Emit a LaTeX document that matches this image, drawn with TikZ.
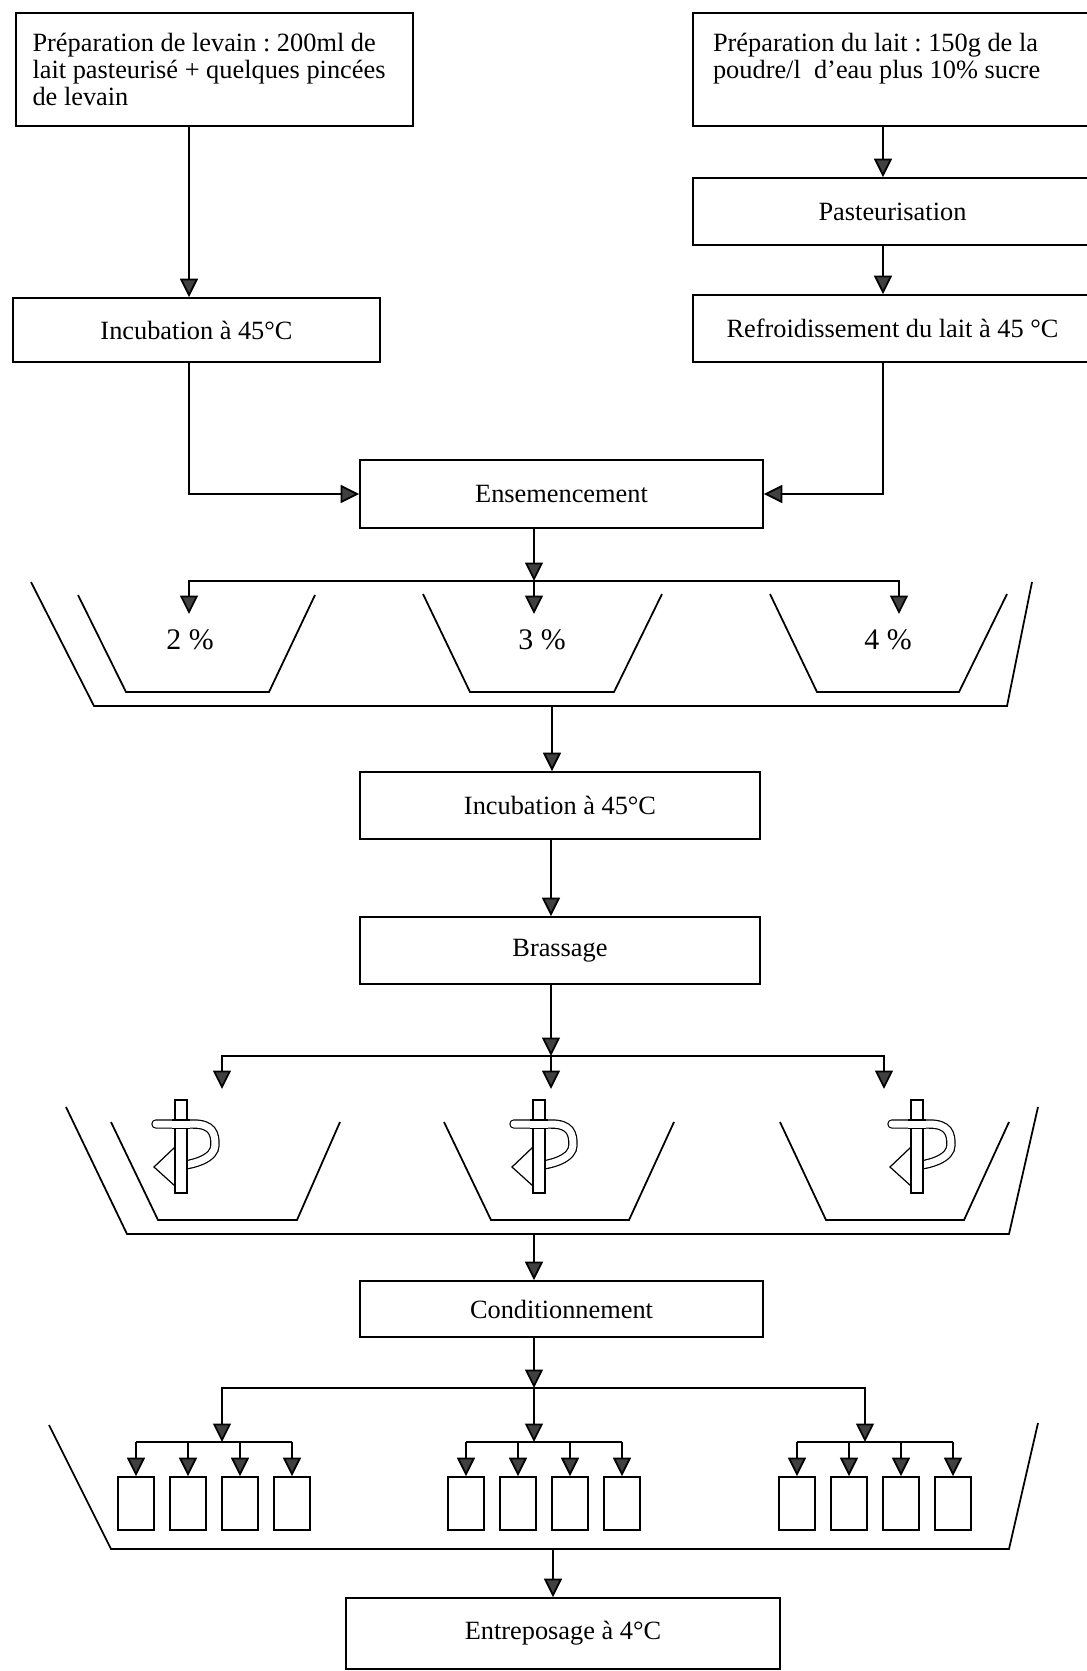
\documentclass[tikz,border=0pt]{standalone}
\usepackage{fontspec}
\setmainfont{Liberation Serif}
\usetikzlibrary{arrows.meta}
\frenchspacing

\tikzset{
  box/.style={draw, line width=1pt, inner sep=0pt, font=\fontsize{15pt}{15.3pt}\selectfont},
  arr/.style={line width=1pt, -{Triangle[length=0.37cm,width=0.36cm,fill=black!75]}},
  tray/.style={line width=1pt},
  band/.style={line width=0.7pt, double=white, double distance=0.14cm, line cap=round},
  cup/.style={draw, line width=1pt, minimum width=0.72cm, minimum height=1.06cm, inner sep=0pt},
  pct/.style={font=\fontsize{17pt}{17pt}\selectfont}
}

\begin{document}
\begin{tikzpicture}[x=0.02cm,y=-0.02cm]
\useasboundingbox (0,0) rectangle (1087,1671);

\node[box, minimum width=7.94cm, minimum height=2.26cm, text width=7.28cm, align=flush left] (levain) at (214.5,69.5) {Préparation de levain : 200ml de\\lait pasteurisé + quelques pincées\\de levain};
\node[box, minimum width=7.98cm, minimum height=2.26cm, text width=7.18cm, align=flush left] (lait) at (892.5,69.5) {Préparation du lait : 150g de la\\poudre/l~~d’eau plus 10\% sucre\\\mbox{}};

\node[box, minimum width=7.98cm, minimum height=1.34cm] (pasteur) at (892.5,211.5) {Pasteurisation};
\node[box, minimum width=7.98cm, minimum height=1.34cm] (refroid) at (892.5,328.5) {Refroidissement du lait à 45 °C};
\node[box, minimum width=7.34cm, minimum height=1.28cm] (incubA) at (196.5,330) {Incubation à 45°C};

\coordinate (colL) at (189,0);
\coordinate (colR) at (883,0);
\draw[arr] (levain.south -| colL) -- (incubA.north -| colL);
\draw[arr] (lait.south -| colR) -- (pasteur.north -| colR);
\draw[arr] (pasteur.south -| colR) -- (refroid.north -| colR);

\node[box, minimum width=8.06cm, minimum height=1.36cm] (ensem) at (561.5,494) {Ensemencement};
\draw[arr] (incubA.south -| colL) |- (ensem.west);
\draw[arr] (refroid.south -| colR) |- (ensem.east);

\coordinate (split1) at (534,581);
\coordinate (pot1) at (189,614);
\coordinate (pot2) at (534,614);
\coordinate (pot3) at (899,614);
\draw[arr] (ensem.south -| split1) -- (split1);
\draw[arr] (split1) -| (pot1);
\draw[arr] (split1) -- (pot2);
\draw[arr] (split1) -| (pot3);

\draw[tray] (31,582) -- (94,706) -- (1007,706) -- (1032,582);
\draw[tray] (78,595) -- (126,692) -- (269,692) -- (315,595);
\draw[tray] (423,594) -- (470,692) -- (614,692) -- (662,594);
\draw[tray] (770,594) -- (817,692) -- (959,692) -- (1007,594);
\node[pct] (dose2) at (190,640) {2 \%};
\node[pct] (dose3) at (542,640) {3 \%};
\node[pct] (dose4) at (888,640) {4 \%};

\node[box, minimum width=8cm, minimum height=1.34cm] (incubB) at (560,805.5) {Incubation à 45°C};
\node[box, minimum width=8cm, minimum height=1.34cm] (brass) at (560,950.5) {Brassage};
\coordinate (bac1) at (552,706);
\coordinate (colM) at (551,0);
\draw[arr] (bac1) -- (incubB.north -| bac1);
\draw[arr] (incubB.south -| colM) -- (brass.north -| colM);

\coordinate (split2) at (551,1056);
\coordinate (mix1) at (222,1089);
\coordinate (mix2) at (551,1089);
\coordinate (mix3) at (884,1089);
\draw[arr] (brass.south -| split2) -- (split2);
\draw[arr] (split2) -| (mix1);
\draw[arr] (split2) -- (mix2);
\draw[arr] (split2) -| (mix3);

\draw[tray] (66,1107) -- (127,1234) -- (1009,1234) -- (1038,1107);
\draw[tray] (111,1122) -- (158,1220) -- (297,1220) -- (340,1122);
\draw[tray] (444,1122) -- (491,1220) -- (629,1220) -- (674,1122);
\draw[tray] (780,1122) -- (826,1220) -- (964,1220) -- (1009,1122);

\foreach \xb in {181,539,917} {
  \draw[band] (\xb-25,1124) -- (\xb+12,1124) .. controls (\xb+32,1124) and (\xb+34,1134) .. (\xb+34,1145) .. controls (\xb+34,1158) and (\xb+14,1165) .. (\xb-6,1166);
  \filldraw[fill=white, line width=0.7pt] (\xb-27,1167) -- (\xb-6,1147) -- (\xb-6,1186) -- cycle;
  \filldraw[fill=white, line width=0.7pt] (\xb-6,1100) rectangle (\xb+6,1193);
  \draw[band, line cap=butt] (\xb-9,1124) -- (\xb+9,1124);
}

\node[box, minimum width=8.06cm, minimum height=1.12cm] (condi) at (561.5,1309) {Conditionnement};
\coordinate (bac2) at (534,1234);
\draw[arr] (bac2) -- (condi.north -| bac2);

\coordinate (split3) at (534,1388);
\draw[arr] (condi.south -| split3) -- (split3);
\foreach \g/\gx/\ga in {1/136/222, 2/466/534, 3/797/865} {
  \coordinate (lot\g) at (\ga,1442);
  \draw[arr] (split3) -| (lot\g);
  \draw[tray] (\gx,1442) -- ({\gx+156},1442);
  \foreach \i in {0,...,3} {
    \node[cup] (cup\g\i) at ({\gx+52*\i},1503.5) {};
    \draw[arr] ({\gx+52*\i},1442) -- (cup\g\i.north);
  }
}

\draw[tray] (49,1425) -- (111,1549) -- (1009,1549) -- (1038,1423);
\node[box, minimum width=8.68cm, minimum height=1.42cm] (stock) at (563,1633.5) {Entreposage à 4°C};
\coordinate (bac3) at (553,1549);
\draw[arr] (bac3) -- (stock.north -| bac3);

\end{tikzpicture}
\end{document}
